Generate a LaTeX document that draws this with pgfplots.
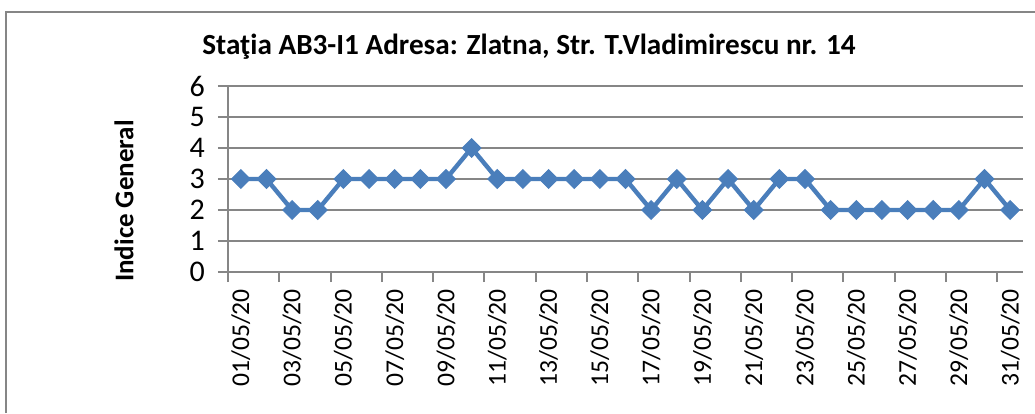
\documentclass[border=0pt]{standalone}
\usepackage{fontspec}
\setmainfont{Carlito}
\usepackage{pgfplots}
\pgfplotsset{compat=1.18}
\definecolor{ser}{HTML}{4A7EBB}
\definecolor{gridg}{HTML}{868686}
\begin{document}
\begin{tikzpicture}
% 1 px of the reference = 0.5pt, origin at the plot area's lower left corner
\useasboundingbox (-114pt,-70.5pt) rectangle (403.5pt,136pt);
\draw[gridg, line width=1pt] (-111pt,-70.5pt) -- (-111pt,130pt) -- (403.5pt,130pt);
\begin{axis}[
  at={(0pt,0pt)}, anchor=origin,
  scale only axis,
  width=397.5pt, height=93pt,
  xmin=0.5, xmax=31.5, ymin=0, ymax=6,
  axis lines=left,
  axis line style={-, gridg, line width=1pt},
  ytick={0,...,6},
  xtick={1,3,...,31},
  xticklabels={01/05/20,03/05/20,05/05/20,07/05/20,09/05/20,11/05/20,13/05/20,15/05/20,17/05/20,19/05/20,21/05/20,23/05/20,25/05/20,27/05/20,29/05/20,31/05/20},
  minor xtick={0.5,2.5,...,30.5},
  major x tick style={draw=none},
  tick align=outside,
  major tick length=5pt, minor tick length=5pt,
  tick style={gridg, line width=1pt},
  ymajorgrids,
  grid style={gridg, line width=1pt},
  /pgf/number format/assume math mode=true,
  xticklabel style={rotate=90, anchor=east, font=\fontsize{12.8}{14}\selectfont},
  yticklabel style={font=\fontsize{15}{17}\selectfont, xshift=-3pt},
  clip=false,
]
\addplot[ser, line width=2.2pt, mark=square*, mark size=3.3pt, mark options={rotate=45, fill=ser, draw=ser, line width=0.5pt}]
  coordinates {
  (1,3) (2,3) (3,2) (4,2) (5,3) (6,3) (7,3) (8,3) (9,3) (10,4)
  (11,3) (12,3) (13,3) (14,3) (15,3) (16,3) (17,2) (18,3) (19,2) (20,3)
  (21,2) (22,3) (23,3) (24,2) (25,2) (26,2) (27,2) (28,2) (29,2) (30,3)
  (31,2)
  };
\end{axis}
\node[anchor=base, font=\bfseries\fontsize{14.6}{17}\selectfont] at (150.5pt,108.5pt)
  {Staţia AB3-I1 Adresa: Zlatna, Str. T.Vladimirescu nr. 14};
\node[rotate=90, font=\bfseries\fontsize{13.5}{16}\selectfont] at (-52pt,35.5pt)
  {Indice General};
\end{tikzpicture}
\end{document}
